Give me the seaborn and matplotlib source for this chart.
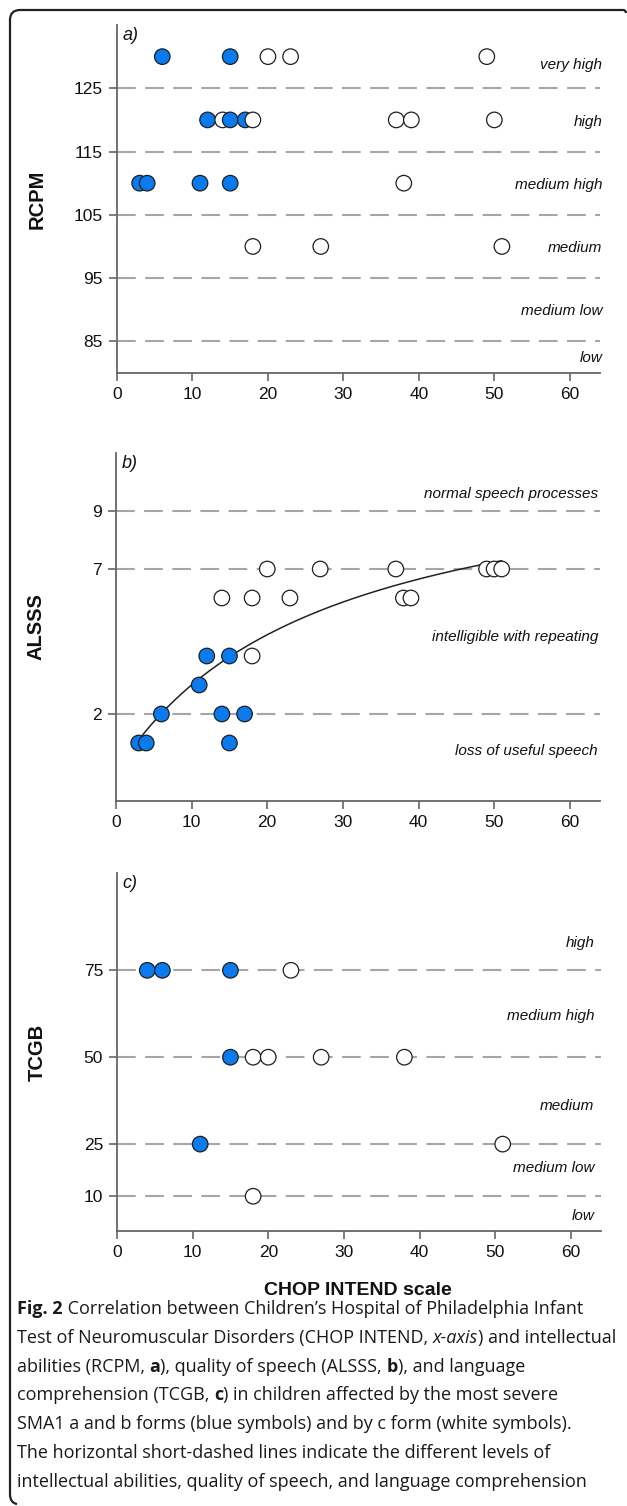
import matplotlib
matplotlib.use("Agg")
import matplotlib.pyplot as plt
import matplotlib.transforms as mtransforms
from matplotlib.path import Path
from matplotlib.patches import PathPatch
import numpy as np
import pandas as pd
import seaborn as sns

# ---- data ----
# a) RCPM
rcpm_blue_x = [6, 15, 12, 15, 17, 3, 4, 11, 15]
rcpm_blue_y = [130, 130, 120, 120, 120, 110, 110, 110, 110]
rcpm_white_x = [20, 23, 49, 14, 18, 37, 39, 50, 38, 18, 27, 51]
rcpm_white_y = [130, 130, 130, 120, 120, 120, 120, 120, 110, 100, 100, 100]
rcpm_levels = [125, 115, 105, 95, 85]
rcpm_names = ["very high", "high", "medium high", "medium", "medium low", "low"]
rcpm_name_y = [128.7, 119.7, 109.7, 99.7, 89.8, 82.4]

# b) ALSSS
alsss_blue_x = [12, 15, 11, 6, 14, 17, 3, 4, 15]
alsss_blue_y = [4, 4, 3, 2, 2, 2, 1, 1, 1]
alsss_white_x = [20, 27, 37, 49, 50, 51, 14, 18, 23, 38, 39, 18]
alsss_white_y = [7, 7, 7, 7, 7, 7, 6, 6, 6, 6, 6, 4]
alsss_levels = [9, 7, 2]
alsss_names = ["normal speech processes", "intelligible with repeating", "loss of useful speech"]
alsss_name_y = [9.6, 4.66, 0.72]

# c) TCGB
tcgb_blue_x = [4, 6, 15, 15, 11]
tcgb_blue_y = [75, 75, 75, 50, 25]
tcgb_white_x = [23, 18, 20, 27, 38, 51, 18]
tcgb_white_y = [75, 50, 50, 50, 50, 25, 10]
tcgb_levels = [75, 50, 25, 10]
tcgb_names = ["high", "medium high", "medium", "medium low", "low"]
tcgb_name_y = [83, 62, 36, 18, 4.3]

BLUE = "#0a7bef"
W, H = 627, 1506

sns.set_theme(style="white")
plt.rcParams["font.family"] = ["Liberation Sans", "DejaVu Sans"]
plt.rcParams["axes.linewidth"] = 1.3
plt.rcParams["axes.edgecolor"] = "#666666"

fig = plt.figure(figsize=(W / 100, H / 100), dpi=100)
fig.patch.set_facecolor("white")


def px_axes(left, top, right, bottom):
    return fig.add_axes([left / W, 1 - bottom / H, (right - left) / W, (bottom - top) / H])


def make_df(bx, by, wx, wy):
    df = pd.concat([
        pd.DataFrame({"x": bx, "y": by, "form": "ab"}),
        pd.DataFrame({"x": wx, "y": wy, "form": "c"}),
    ], ignore_index=True)
    return df.sort_values("x", kind="stable")


def panel(ax, df, levels, ylim, yticks, ylabel, letter, names, name_y, name_x):
    for lv in levels:
        ax.axhline(lv, color="#a6a6a6", lw=1.5, dashes=(9, 4.5), zorder=1)
    sns.scatterplot(data=df, x="x", y="y", hue="form",
                    palette={"ab": BLUE, "c": "white"}, edgecolor="#1e1e1e",
                    linewidth=0.9, s=125, legend=False, ax=ax, zorder=3)
    ax.set_xlim(0, 64)
    ax.set_ylim(*ylim)
    ax.set_xticks(range(0, 61, 10))
    ax.set_yticks(yticks)
    ax.tick_params(direction="out", length=6, width=1.2, color="#666666",
                   labelsize=12.5, pad=4, labelcolor="#111111",
                   bottom=True, left=True)
    sns.despine(ax=ax)
    ax.set_xlabel("")
    ax.set_ylabel(ylabel, fontsize=14.5, fontweight="bold", color="#111111")
    ax.yaxis.set_label_coords(-0.145, 0.5)
    ax.text(0.012, 0.995, letter, transform=ax.transAxes, fontsize=13,
            fontstyle="italic", ha="left", va="top", color="#111111")
    tr = mtransforms.blended_transform_factory(ax.transAxes, ax.transData)
    for nm, yy in zip(names, name_y):
        ax.text(name_x, yy, nm, transform=tr, fontsize=11, fontstyle="italic",
                ha="right", va="center", color="#111111")


# a)
ax_a = px_axes(117, 25, 600, 373)
panel(ax_a, make_df(rcpm_blue_x, rcpm_blue_y, rcpm_white_x, rcpm_white_y),
      rcpm_levels, (80, 135), rcpm_levels[::-1], "RCPM", "a)",
      rcpm_names, rcpm_name_y, 1.005)

# b)
ax_b = px_axes(116, 453, 600, 801)
df_b = make_df(alsss_blue_x, alsss_blue_y, alsss_white_x, alsss_white_y)
panel(ax_b, df_b, alsss_levels, (-1, 11), sorted(alsss_levels), "ALSSS", "b)",
      alsss_names, alsss_name_y, 0.996)

# hyperbolic fit y = a*x/(b+x), least squares over all ALSSS points
xv = df_b["x"].to_numpy(float)
yv = df_b["y"].to_numpy(float)
best = None
for bb in np.linspace(1, 150, 3000):
    f = xv / (bb + xv)
    aa = f @ yv / (f @ f)
    sse = ((yv - aa * f) ** 2).sum()
    if best is None or sse < best[0]:
        best = (sse, aa, bb)
_, fa, fb = best
xs = np.linspace(xv.min(), xv.max(), 300)
ax_b.plot(xs, fa * xs / (fb + xs), color="#222222", lw=1.1, zorder=2)

# c)
ax_c = px_axes(117, 873, 601, 1231)
panel(ax_c, make_df(tcgb_blue_x, tcgb_blue_y, tcgb_white_x, tcgb_white_y),
      tcgb_levels, (0, 103), sorted(tcgb_levels), "TCGB", "c)",
      tcgb_names, tcgb_name_y, 0.986)
ax_c.set_xlabel("CHOP INTEND scale", fontsize=14, fontweight="bold", color="#111111")
ax_c.xaxis.set_label_coords(0.498, -0.143)

# ---- caption ----
cap_font = ["Open Sans", "DejaVu Sans"]
N, B, I = ("normal", "normal"), ("bold", "normal"), ("normal", "italic")
caption = [
    [("Fig. 2", B), (" Correlation between Children’s Hospital of Philadelphia Infant", N)],
    [("Test of Neuromuscular Disorders (CHOP INTEND, ", N), ("x-axis", I), (") and intellectual", N)],
    [("abilities (RCPM, ", N), ("a", B), ("), quality of speech (ALSSS, ", N), ("b", B), ("), and language", N)],
    [("comprehension (TCGB, ", N), ("c", B), (") in children affected by the most severe", N)],
    [("SMA1 a and b forms (blue symbols) and by c form (white symbols).", N)],
    [("The horizontal short-dashed lines indicate the different levels of", N)],
    [("intellectual abilities, quality of speech, and language comprehension", N)],
]

renderer = fig.canvas.get_renderer()


def text_width(s, fs, weight, style):
    t = fig.text(0, 0, s + "|", fontsize=fs, fontweight=weight, fontstyle=style, family=cap_font)
    w1 = t.get_window_extent(renderer).width
    t.set_text("|")
    w2 = t.get_window_extent(renderer).width
    t.remove()
    return w1 - w2


ref_w = sum(text_width(s, 12, *st) for s, st in caption[1])
cap_fs = 12 * 597 / ref_w

y0, dy = 1314, 28.8
for i, line in enumerate(caption):
    x = 17
    for s, (weight, style) in line:
        fig.text(x / W, 1 - (y0 + i * dy) / H, s, fontsize=cap_fs, fontweight=weight,
                 fontstyle=style, family=cap_font, ha="left", va="baseline", color="#1a1a1a")
        x += text_width(s, cap_fs, weight, style)

# ---- frame ----
pts = [(17, 1504), (10, 1503), (10, 1494), (10, 20), (10, 10), (20, 10), (623, 10), (626, 10), (626, 13)]
codes = [Path.MOVETO, Path.CURVE3, Path.CURVE3, Path.LINETO, Path.CURVE3, Path.CURVE3,
         Path.LINETO, Path.CURVE3, Path.CURVE3]
frame = Path([(px / W, 1 - py / H) for px, py in pts], codes)
fig.add_artist(PathPatch(frame, transform=fig.transFigure, fill=False, lw=1.6, edgecolor="#222222"))

fig.savefig("out.png", dpi=100)
